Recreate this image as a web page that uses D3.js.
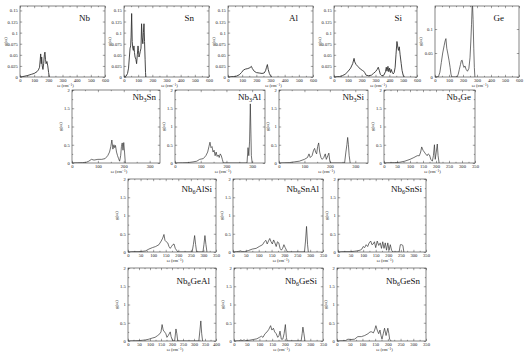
<!DOCTYPE html>
<html><head><meta charset="utf-8">
<script src="https://cdn.jsdelivr.net/npm/d3@7"></script>
<style>body{margin:0;background:#fff}</style>
</head><body>
<svg id="c" width="531" height="360" xmlns="http://www.w3.org/2000/svg"></svg>
<script>
// ---------- data: [frequency (cm^-1), g(ω)] ----------
const dosNb = [[0,0],[20,0.001],[50,0.003],[80,0.006],[100,0.008],[120,0.012],[130,0.016],[138,0.022],[143,0.04],[146,0.052],[150,0.03],[153,0.045],[157,0.025],[162,0.017],[167,0.03],[172,0.05],[176,0.056],[180,0.04],[184,0.03],[190,0.035],[196,0.025],[202,0.01],[207,0]];
const dosSn = [[0,0],[15,0.002],[25,0.008],[32,0.02],[38,0.045],[43,0.065],[47,0.07],[50,0.09],[54,0.143],[58,0.08],[62,0.065],[66,0.06],[70,0.07],[74,0.055],[78,0.045],[84,0.04],[89,0.03],[94,0.05],[99,0.07],[102,0.06],[106,0.045],[110,0.05],[115,0.058],[120,0.065],[124,0.12],[128,0.09],[133,0.075],[137,0.1],[141,0.12],[145,0.08],[149,0.04],[152,0.01],[154,0]];
const dosAl = [[0,0],[20,0.0005],[40,0.001],[60,0.002],[80,0.005],[95,0.01],[110,0.016],[125,0.018],[140,0.019],[155,0.021],[165,0.024],[172,0.019],[185,0.013],[200,0.01],[220,0.009],[240,0.008],[255,0.009],[265,0.014],[272,0.022],[278,0.028],[284,0.017],[292,0.008],[300,0.003],[308,0]];
const dosSi = [[0,0],[40,0.001],[60,0.003],[80,0.006],[100,0.012],[120,0.02],[135,0.03],[145,0.042],[150,0.034],[160,0.028],[175,0.023],[190,0.018],[205,0.015],[215,0.013],[222,0.01],[232,0.004],[250,0.003],[270,0.004],[285,0.008],[300,0.012],[312,0.017],[320,0.022],[328,0.014],[335,0.006],[345,0.003],[360,0.004],[372,0.012],[378,0.022],[383,0.013],[390,0.024],[396,0.012],[402,0.02],[408,0.01],[414,0.017],[420,0.011],[428,0.007],[435,0.01],[442,0.022],[448,0.05],[455,0.08],[460,0.07],[466,0.06],[472,0.068],[478,0.05],[486,0.03],[492,0.015],[500,0.004],[508,0]];
const dosGe = [[0,0],[25,0.001],[35,0.01],[45,0.03],[55,0.05],[65,0.065],[72,0.075],[78,0.08],[84,0.06],[92,0.048],[100,0.035],[108,0.02],[114,0.006],[120,0],[158,0],[166,0.006],[174,0.016],[182,0.026],[188,0.034],[194,0.035],[200,0.026],[207,0.02],[214,0.023],[222,0.016],[232,0.012],[242,0.018],[250,0.04],[256,0.075],[261,0.11],[267,0.16],[272,0.12],[277,0.06],[281,0.02],[285,0]];

const dosNb3Sn = [[0,0],[20,0.005],[40,0.01],[55,0.02],[65,0.05],[75,0.1],[85,0.08],[100,0.1],[115,0.1],[128,0.12],[138,0.2],[145,0.3],[150,0.45],[154,0.63],[158,0.38],[162,0.5],[165,0.42],[168,0.48],[172,0.3],[176,0.2],[180,0.12],[184,0.05],[188,0.2],[191,0.45],[194,0.55],[197,0.35],[200,0.56],[203,0.3],[206,0]];
const dosNb3Al = [[0,0],[30,0.005],[50,0.01],[70,0.03],[85,0.05],[96,0.1],[110,0.12],[120,0.2],[127,0.3],[132,0.45],[136,0.57],[140,0.42],[144,0.45],[148,0.3],[152,0.35],[156,0.2],[160,0.3],[164,0.18],[168,0.22],[172,0.15],[176,0.25],[180,0.2],[184,0.1],[188,0],[280,0],[284,0.42],[287,0.2],[290,0.6],[293,1.62],[297,0.2],[300,0]];
const dosNb3Si = [[0,0],[20,0.005],[40,0.01],[60,0.03],[80,0.05],[100,0.1],[112,0.15],[118,0.25],[123,0.15],[130,0.2],[136,0.35],[140,0.4],[144,0.3],[148,0.25],[152,0.45],[156,0.55],[160,0.3],[165,0.15],[170,0.1],[176,0.15],[182,0.25],[186,0.1],[192,0.2],[196,0.27],[200,0.05],[204,0],[258,0],[263,0.3],[267,0.5],[270,0.7],[273,0.5],[276,0.2],[280,0]];
const dosNb3Ge = [[0,0],[20,0.005],[40,0.01],[60,0.02],[80,0.05],[100,0.1],[115,0.15],[128,0.2],[136,0.2],[141,0.3],[145,0.44],[150,0.35],[155,0.3],[160,0.25],[166,0.2],[170,0.25],[175,0.22],[180,0.1],[186,0.05],[190,0.2],[194,0.5],[197,0.1],[201,0.3],[205,0.52],[208,0.2],[212,0]];

const dosNb6AlSi = [[0,0],[20,0.01],[40,0.01],[60,0.02],[70,0.03],[83,0.08],[97,0.12],[110,0.15],[123,0.2],[132,0.3],[138,0.38],[143,0.48],[147,0.32],[152,0.28],[158,0.25],[163,0.15],[168,0.1],[173,0.15],[178,0.2],[183,0.22],[188,0.1],[193,0.05],[198,0],[255,0],[260,0.2],[265,0.45],[269,0.2],[273,0],[298,0],[302,0.2],[306,0.45],[310,0.2],[314,0]];
const dosNb6SnAl = [[0,0],[15,0.01],[25,0.02],[30,0.03],[35,0.01],[45,0.01],[60,0.04],[75,0.08],[90,0.1],[102,0.15],[115,0.2],[122,0.28],[128,0.32],[133,0.22],[138,0.3],[143,0.37],[148,0.28],[153,0.22],[158,0.33],[163,0.25],[168,0.15],[173,0.28],[178,0.25],[183,0.1],[188,0.05],[193,0.1],[198,0.2],[203,0.12],[208,0.05],[212,0],[278,0],[282,0.3],[286,0.7],[290,0.2],[293,0]];
const dosNb6SnSi = [[0,0],[20,0.01],[50,0.01],[65,0.02],[75,0.03],[88,0.05],[95,0.08],[100,0.15],[106,0.12],[112,0.2],[118,0.15],[124,0.25],[130,0.3],[135,0.2],[140,0.22],[145,0.28],[150,0.12],[156,0.3],[162,0.18],[168,0.25],[173,0.1],[178,0.28],[183,0.1],[188,0.25],[193,0.05],[198,0.25],[203,0.05],[208,0.2],[213,0.05],[218,0],[243,0],[248,0.2],[253,0.2],[258,0.18],[262,0]];

const dosNb6GeAl = [[0,0],[30,0.005],[50,0.01],[65,0.02],[80,0.03],[95,0.05],[110,0.08],[123,0.1],[135,0.15],[145,0.2],[150,0.25],[155,0.45],[160,0.3],[166,0.25],[172,0.2],[177,0.1],[183,0.15],[192,0.25],[196,0.12],[200,0.05],[205,0],[212,0],[218,0.33],[222,0.2],[226,0],[322,0],[327,0.3],[331,0.55],[335,0.2],[339,0]];
const dosNb6GeSi = [[0,0],[20,0.005],[27,0.03],[32,0.01],[40,0.03],[45,0.01],[60,0.02],[75,0.04],[90,0.06],[100,0.1],[108,0.13],[114,0.1],[122,0.2],[130,0.25],[137,0.32],[144,0.42],[149,0.3],[155,0.35],[160,0.25],[166,0.2],[172,0.1],[177,0.15],[181,0.27],[186,0.05],[192,0.05],[197,0.2],[202,0.45],[206,0.1],[209,0],[264,0],[268,0.2],[271,0.38],[275,0.2],[279,0]];
const dosNb6GeSn = [[0,0],[20,0.005],[33,0.01],[43,0.05],[55,0.04],[69,0.05],[82,0.12],[96,0.12],[109,0.15],[122,0.2],[130,0.25],[137,0.25],[143,0.22],[148,0.3],[153,0.42],[158,0.3],[164,0.2],[169,0.3],[173,0.15],[177,0.05],[182,0.2],[187,0.35],[193,0.15],[200,0.35],[204,0.2],[207,0.05],[213,0]];

// ---------- tick values ----------
const xTicks600 = [0,100,200,300,400,500,600];
const xTicks300 = [0,100,200,300];
const xTicks350 = [0,50,100,150,200,250,300,350];
const xTicks400 = [0,50,100,150,200,250,300,350,400];
const yTicksElem = [0,0.025,0.05,0.075,0.1,0.125,0.15];
const yTicksGe = [0,0.05,0.1];
const yTicksComp = [0,0.5,1,1.5,2];

// ---------- panel layout ----------
const panels = [
  {name:['Nb'], data:dosNb, x0:20, x1:105, y0:6, y1:77, xMax:600, yMax:0.16, xt:xTicks600, yt:yTicksElem, row:0, lw:0.9},
  {name:['Sn'], data:dosSn, x0:124, x1:209, y0:6, y1:77, xMax:600, yMax:0.16, xt:xTicks600, yt:yTicksElem, row:0, lw:0.9},
  {name:['Al'], data:dosAl, x0:228, x1:313, y0:6, y1:77, xMax:600, yMax:0.16, xt:xTicks600, yt:yTicksElem, row:0, lw:0.9},
  {name:['Si'], data:dosSi, x0:334, x1:417, y0:6, y1:77, xMax:600, yMax:0.16, xt:xTicks600, yt:yTicksElem, row:0, lw:0.9},
  {name:['Ge'], data:dosGe, x0:435, x1:519, y0:6, y1:77, xMax:600, yMax:0.148, xt:xTicks600, yt:yTicksGe, row:0, lw:0.7},
  {name:['Nb','3','Sn'], data:dosNb3Sn, x0:72, x1:160, y0:90, y1:163, xMax:340, yMax:2, xt:xTicks300, yt:yTicksComp, row:1, lw:0.7},
  {name:['Nb','3','Al'], data:dosNb3Al, x0:175, x1:265, y0:90, y1:163, xMax:350, yMax:2, xt:xTicks300, yt:yTicksComp, row:1, lw:0.7},
  {name:['Nb','3','Si'], data:dosNb3Si, x0:279, x1:368, y0:90, y1:163, xMax:350, yMax:2, xt:xTicks300, yt:yTicksComp, row:1, lw:0.7},
  {name:['Nb','3','Ge'], data:dosNb3Ge, x0:384, x1:475, y0:90, y1:163, xMax:350, yMax:2, xt:xTicks350, yt:yTicksComp, row:1, lw:0.7},
  {name:['Nb','6','AlSi'], data:dosNb6AlSi, x0:128, x1:216, y0:179, y1:252, xMax:350, yMax:2, xt:xTicks350, yt:yTicksComp, row:2, lw:0.7},
  {name:['Nb','6','SnAl'], data:dosNb6SnAl, x0:233, x1:323, y0:179, y1:252, xMax:350, yMax:2, xt:xTicks350, yt:yTicksComp, row:2, lw:0.7},
  {name:['Nb','6','SnSi'], data:dosNb6SnSi, x0:338, x1:426, y0:179, y1:252, xMax:350, yMax:2, xt:xTicks350, yt:yTicksComp, row:2, lw:0.7},
  {name:['Nb','6','GeAl'], data:dosNb6GeAl, x0:128, x1:216, y0:268, y1:341, xMax:400, yMax:2, xt:xTicks400, yt:yTicksComp, row:3, lw:0.7},
  {name:['Nb','6','GeSi'], data:dosNb6GeSi, x0:234, x1:323, y0:268, y1:341, xMax:350, yMax:2, xt:xTicks350, yt:yTicksComp, row:3, lw:0.7},
  {name:['Nb','6','GeSn'], data:dosNb6GeSn, x0:337, x1:426, y0:268, y1:341, xMax:350, yMax:2, xt:xTicks350, yt:yTicksComp, row:3, lw:0.7}
];
const labelOff = [{dx:15, dy:15},{dx:4, dy:10},{dx:4, dy:13},{dx:6, dy:16}];

const svg = d3.select('#c');
const tickFont = 'Liberation Serif, Times New Roman, serif';
const fmtY = d => (d === 0 ? '0' : String(+d.toFixed(3)));

panels.forEach((p, i) => {
  const x = d3.scaleLinear().domain([0, p.xMax]).range([p.x0, p.x1]);
  const y = d3.scaleLinear().domain([0, p.yMax]).range([p.y1, p.y0]);
  const g = svg.append('g');
  const clipId = 'clip' + i;
  svg.append('clipPath').attr('id', clipId).append('rect')
    .attr('x', p.x0).attr('y', p.y0).attr('width', p.x1 - p.x0).attr('height', p.y1 - p.y0);

  // minor tick values
  const xStep = p.xt[1] - p.xt[0];
  const xMinor = d3.range(xStep / 2, p.xMax, xStep / 2).filter(v => p.xt.indexOf(v) < 0);
  const yStep = p.yt[1] - p.yt[0];
  const yMinor = p.row === 0 ? [] : d3.range(yStep / 2, p.yMax, yStep / 2).filter(v => p.yt.indexOf(v) < 0);

  const styleAxis = sel => {
    sel.select('.domain').remove();
    sel.selectAll('line').attr('stroke', '#444').attr('stroke-width', 0.5);
    sel.selectAll('text').attr('font-family', tickFont).attr('font-size', 4.6).attr('fill', '#222');
  };

  // bottom
  g.append('g').attr('transform', `translate(0,${p.y1})`)
    .call(d3.axisBottom(x).tickValues(p.xt).tickSize(-2.2).tickPadding(2.2).tickFormat(d3.format('d'))).call(styleAxis);
  g.append('g').attr('transform', `translate(0,${p.y1})`)
    .call(d3.axisBottom(x).tickValues(xMinor).tickSize(-1.2).tickFormat('')).call(styleAxis);
  // top
  g.append('g').attr('transform', `translate(0,${p.y0})`)
    .call(d3.axisTop(x).tickValues(p.xt).tickSize(-2.2).tickFormat('')).call(styleAxis);
  g.append('g').attr('transform', `translate(0,${p.y0})`)
    .call(d3.axisTop(x).tickValues(xMinor).tickSize(-1.2).tickFormat('')).call(styleAxis);
  // left
  g.append('g').attr('transform', `translate(${p.x0},0)`)
    .call(d3.axisLeft(y).tickValues(p.yt).tickSize(-2.2).tickPadding(2.2).tickFormat(fmtY)).call(styleAxis);
  g.append('g').attr('transform', `translate(${p.x0},0)`)
    .call(d3.axisLeft(y).tickValues(yMinor).tickSize(-1.2).tickFormat('')).call(styleAxis);
  // right
  g.append('g').attr('transform', `translate(${p.x1},0)`)
    .call(d3.axisRight(y).tickValues(p.yt).tickSize(-2.2).tickFormat('')).call(styleAxis);
  g.append('g').attr('transform', `translate(${p.x1},0)`)
    .call(d3.axisRight(y).tickValues(yMinor).tickSize(-1.2).tickFormat('')).call(styleAxis);

  // frame
  g.append('rect').attr('x', p.x0).attr('y', p.y0).attr('width', p.x1 - p.x0).attr('height', p.y1 - p.y0)
    .attr('fill', 'none').attr('stroke', '#333').attr('stroke-width', 0.6);

  // curve
  const line = d3.line().x(d => x(d[0])).y(d => y(d[1]));
  g.append('path').datum(p.data).attr('d', line).attr('clip-path', `url(#${clipId})`)
    .attr('fill', 'none').attr('stroke', '#333').attr('stroke-width', p.lw).attr('stroke-linejoin', 'round');

  // compound label
  const off = labelOff[p.row];
  const t = g.append('text').attr('x', p.x1 - off.dx).attr('y', p.y0 + off.dy)
    .attr('text-anchor', 'end').attr('font-family', tickFont).attr('font-size', 9).attr('fill', '#111');
  t.append('tspan').text(p.name[0]);
  if (p.name.length > 1) {
    t.append('tspan').attr('dy', 2).attr('font-size', 6).text(p.name[1]);
    t.append('tspan').attr('dy', -2).text(p.name[2]);
  }

  // axis titles
  const xt = g.append('text').attr('x', (p.x0 + p.x1) / 2 + 3).attr('y', p.y1 + 10)
    .attr('text-anchor', 'middle').attr('font-family', tickFont).attr('font-size', 4.6).attr('fill', '#222');
  xt.append('tspan').text('ω (cm');
  xt.append('tspan').attr('dy', -1.5).attr('font-size', 3.4).text('−1');
  xt.append('tspan').attr('dy', 1.5).text(')');

  g.append('text').attr('transform', `translate(${p.x0 - (p.row === 0 ? 13 : 10)},${(p.y0 + p.y1) / 2}) rotate(-90)`)
    .attr('text-anchor', 'middle').attr('font-family', tickFont).attr('font-size', 4.6).attr('fill', '#222')
    .text('g(ω)');
});
</script>
</body></html>
